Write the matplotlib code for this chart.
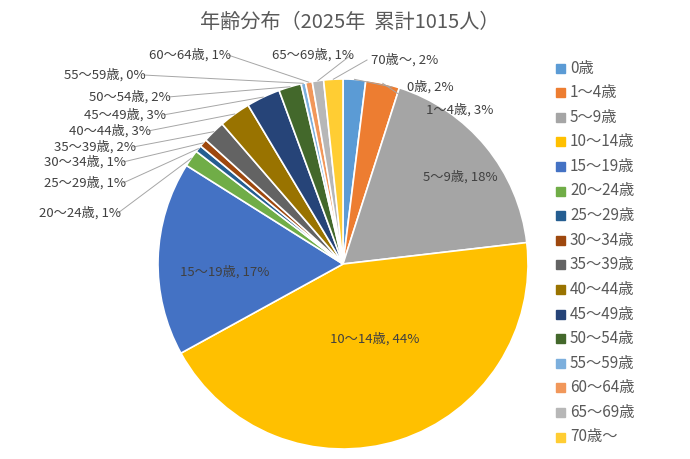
import matplotlib
matplotlib.use("Agg")
import matplotlib.pyplot as plt
import numpy as np

categories = ["0歳","1～4歳","5～9歳","10～14歳","15～19歳","20～24歳","25～29歳","30～34歳",
              "35～39歳","40～44歳","45～49歳","50～54歳","55～59歳","60～64歳","65～69歳","70歳～"]
counts = [20,30,185,445,172,15,6,7,20,28,30,20,4,6,10,17]
pct_labels = ["2%","3%","18%","44%","17%","1%","1%","1%","2%","3%","3%","2%","0%","1%","1%","2%"]
colors = ["#5B9BD5","#ED7D31","#A5A5A5","#FFC000","#4472C4","#70AD47","#255E91","#9E480E",
          "#636363","#997300","#264478","#43682B","#7CAFDD","#F1975A","#B7B7B7","#FFCD33"]
# label positions in pixels (None = inside)
label_pos = [(430,87),(460,110),(460,177),(375,339),(225,272),(80,213),(85,183),(85,162),
             (95,147),(110,131),(125,115),(130,97),(105,75),(190,55),(313,55),(405,60)]
inside = {2,3,4}

plt.rcParams["font.family"] = "Noto Sans CJK JP"
fig = plt.figure(figsize=(6.9,4.59), dpi=100)
ax = fig.add_axes([0,0,1,1])
ax.set_xlim(0,690); ax.set_ylim(459,0); ax.set_aspect("equal"); ax.axis("off")
cx, cy, R = 343, 264, 185
wedges, _ = ax.pie(counts, colors=colors, startangle=-90, counterclock=True, center=(cx,cy),
                   radius=R, wedgeprops=dict(edgecolor="white", linewidth=1.2), frame=True)
ax.set_xlim(0,690); ax.set_ylim(459,0); ax.axis("off")
tc = "#404040"
for i, w in enumerate(wedges):
    lx, ly = label_pos[i]
    txt = f"{categories[i]}, {pct_labels[i]}"
    ax.text(lx, ly, txt, ha="center", va="center", fontsize=9.5, color=tc)
    if i not in inside:
        mid = np.deg2rad((w.theta1 + w.theta2)/2)
        ex, ey = cx + R*np.cos(mid), cy + R*np.sin(mid)
        tx = lx + (38 if lx < ex else -38)
        ax.plot([ex, tx], [ey, ly], color="#A6A6A6", lw=0.7)

ax.text(350, 22, "年齢分布（2025年  累計1015人）", ha="center", va="center", fontsize=14.5, color="#595959")
for i, c in enumerate(categories):
    y = 68 + i*24.6
    ax.add_patch(plt.Rectangle((556, y-4.5), 9, 9, color=colors[i]))
    ax.text(570, y, c, ha="left", va="center", fontsize=11, color="#595959")
fig.savefig("out.png", dpi=100)
